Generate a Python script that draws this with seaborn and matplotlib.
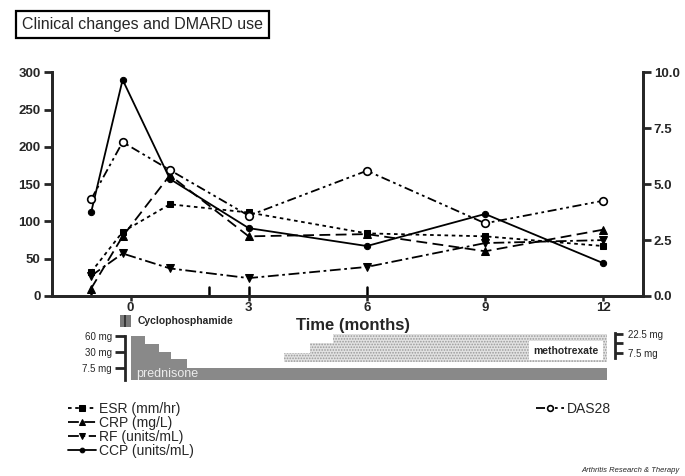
import numpy as np
import pandas as pd
import matplotlib
matplotlib.use("Agg")
import matplotlib.pyplot as plt
import seaborn as sns

# ---------------- data ----------------
months = [-1, -0.2, 1, 3, 6, 9, 12]
esr = [32, 86, 123, 112, 84, 80, 67]
crp = [10, 80, 162, 80, 83, 60, 89]
rf = [27, 57, 37, 24, 39, 71, 75]
ccp = [112, 290, 157, 91, 67, 110, 44]
das28 = [4.32, 6.88, 5.63, 3.59, 5.60, 3.25, 4.26]

series_labels = ["ESR (mm/hr)", "CRP (mg/L)", "RF (units/mL)", "CCP (units/mL)"]
das_label = "DAS28"

x_ticks = [0, 3, 6, 9, 12]
event_months = [-1, 2, 3, 6]
left_ticks = [0, 50, 100, 150, 200, 250, 300]
right_ticks = [0.0, 2.5, 5.0, 7.5, 10.0]

cyclo_start = [-0.27, -0.135]
cyclo_width = [0.135, 0.135]

pred_start = [0, 0.38, 0.72, 1.04, 1.44]
pred_dose = [60, 45, 30, 20, 7.5]
pred_end = 12.1
pred_ticks = [60, 30, 7.5]
pred_ticklabels = ["60 mg", "30 mg", "7.5 mg"]

mtx_start = [3.9, 4.55, 5.15]
mtx_dose = [7.5, 15, 22.5]
mtx_end = 12.1
mtx_ticks = [7.5, 15, 22.5]
mtx_ticklabels = ["7.5 mg", "", "22.5 mg"]

# ---------------- style ----------------
sns.set_style("ticks")
plt.rcParams["font.family"] = ["Liberation Sans", "DejaVu Sans"]
plt.rcParams["hatch.linewidth"] = 0.8

W, H = 685, 476
fig = plt.figure(figsize=(W / 100, H / 100), dpi=100)


def fx(px):
    return px / W


def fy(py):
    return 1 - py / H


# main axes
ax = fig.add_axes([fx(51.7), fy(296), fx(642.7 - 51.7), (296 - 72.3) / H])
ax2 = ax.twinx()

df = pd.DataFrame({"month": months, "ESR": esr, "CRP": crp, "RF": rf,
                   "CCP": ccp, "DAS28": das28})

styles = {
    "ESR": dict(linestyle=(0, (2, 2)), marker="s", markersize=5),
    "CRP": dict(linestyle=(0, (6, 3)), marker="^", markersize=5.5),
    "RF": dict(linestyle=(0, (6, 2, 1.5, 2)), marker="v", markersize=5.5),
    "CCP": dict(linestyle="-", marker="o", markersize=4.5),
}
handles = []
for key, lab in zip(["ESR", "CRP", "RF", "CCP"], series_labels):
    sns.lineplot(data=df, x="month", y=key, ax=ax, color="black", linewidth=1.3,
                 markeredgecolor="black", markerfacecolor="black", legend=False,
                 **styles[key])
    ln = ax.lines[-1]
    ln.set_label(lab)
    handles.append(ln)

sns.lineplot(data=df, x="month", y="DAS28", ax=ax2, color="black", linewidth=1.3,
             linestyle=(0, (5, 2, 1.5, 2, 1.5, 2)), marker="o", markersize=5.5,
             markerfacecolor="white", markeredgecolor="black", markeredgewidth=1.2,
             legend=False)
das_line = ax2.lines[-1]
das_line.set_label(das_label)

ax.set_xlim(-2, 13)
ax.set_ylim(0, 300)
ax2.set_ylim(0, 10)
ax.set_xticks(x_ticks)
ax.set_yticks(left_ticks)
ax2.set_yticks(right_ticks)
ax2.set_yticklabels([f"{v:.1f}" for v in right_ticks])
for a in (ax, ax2):
    a.spines["top"].set_visible(False)
    for s in a.spines.values():
        s.set_linewidth(2)
    a.set_ylabel("")
ax.set_xlabel("Time (months)", fontsize=12, fontweight="bold")
ax.xaxis.set_label_coords(0.51, -0.1)
ax.tick_params(axis="y", direction="out", length=6, width=2, labelsize=9.5, pad=2)
ax.tick_params(axis="x", direction="out", length=3.5, width=1.8, labelsize=9.5, pad=1)
ax2.tick_params(axis="y", direction="out", length=6, width=2, labelsize=9.5, pad=2)
for lab in ax.get_xticklabels() + ax.get_yticklabels() + ax2.get_yticklabels():
    lab.set_fontweight("bold")
for m in event_months:
    ax.axvline(m, ymin=0, ymax=0.042, color="black", linewidth=1.8)

# cyclophosphamide strip
axc = fig.add_axes([fx(51.7), fy(328), fx(642.7 - 51.7), 14 / H])
axc.set_xlim(-2, 13)
axc.set_ylim(0, 1)
axc.axis("off")
axc.bar(cyclo_start, 0.85, width=cyclo_width, bottom=0.08, align="edge",
        color="#7a7a7a", linewidth=0)
axc.vlines(cyclo_start[1], 0.08, 0.93, color="#2a2a2a", linewidth=1.2)
axc.text(cyclo_start[1] + 0.32, 0.5, "Cyclophosphamide", fontsize=7.5,
         fontweight="bold", va="center", ha="left")

# prednisone / methotrexate panel
dose_ref = [0, 7.5, 30, 60, 90]
pos_ref = [0, 12.3, 28.3, 44.3, 60.3]


def fwd(d):
    return np.interp(d, dose_ref, pos_ref)


def inv(p):
    return np.interp(p, pos_ref, dose_ref)


axp = fig.add_axes([fx(51.7), fy(380), fx(642.7 - 51.7), 50 / H])
axp.patch.set_visible(False)
axp.set_xlim(-2, 13)
axp.set_yscale("function", functions=(fwd, inv))
axp.set_ylim(0, float(inv(50)))
pw = np.diff(pred_start + [pred_end])
axp.bar(pred_start, pred_dose, width=pw, align="edge", color="#898989", linewidth=0)
for s in ["top", "bottom", "right"]:
    axp.spines[s].set_visible(False)
axp.spines["left"].set_position(("data", -0.15))
axp.spines["left"].set_bounds(0, 60)
axp.spines["left"].set_linewidth(2)
axp.set_xticks([])
axp.set_yticks(pred_ticks)
axp.set_yticklabels(pred_ticklabels)
axp.yaxis.set_minor_locator(matplotlib.ticker.NullLocator())
axp.tick_params(axis="y", direction="out", length=7, width=2, labelsize=7, pad=2)
axp.text(pred_start[0] + 0.15, 0.115, "prednisone", transform=axp.get_xaxis_transform(),
         color="#ececec", fontsize=9, va="center", ha="left")

axm = axp.twinx()
axm.patch.set_visible(False)
axm.set_ylim(-15.0, 26.0)
mw = np.diff(mtx_start + [mtx_end])
axm.bar(mtx_start, mtx_dose, width=mw, align="edge", color="#e2e2e2",
        edgecolor="#9a9a9a", hatch="......", linewidth=0)
for s in ["top", "bottom", "left"]:
    axm.spines[s].set_visible(False)
axm.spines["right"].set_position(("data", 12.3))
axm.spines["right"].set_bounds(3, 23.2)
axm.spines["right"].set_linewidth(2)
axm.set_yticks(mtx_ticks)
axm.set_yticklabels(mtx_ticklabels)
axm.tick_params(axis="y", direction="out", length=6, width=2, labelsize=7, pad=3)
axm.text(11.05, 9.0, "methotrexate", fontsize=7.5, fontweight="bold",
         ha="center", va="center",
         bbox=dict(boxstyle="square,pad=0.45", fc="white", ec="none"))

# legends
leg1 = fig.legend(handles=handles, loc="upper left", bbox_to_anchor=(fx(68), fy(402)),
                  frameon=False, fontsize=10, handlelength=2.0, handletextpad=0.2,
                  labelspacing=0.0, borderpad=0, borderaxespad=0, markerscale=0.75)
leg2 = fig.legend(handles=[das_line], loc="upper left", bbox_to_anchor=(fx(536), fy(402)),
                  frameon=False, fontsize=10, handlelength=2.0, handletextpad=0.2,
                  borderpad=0, borderaxespad=0, markerscale=0.75)

# title box
fig.text(fx(22), fy(24.5), "Clinical changes and DMARD use", fontsize=11.5, va="center",
         ha="left", bbox=dict(boxstyle="square,pad=0.35", fc="white", ec="black", lw=1.6))

fig.text(fx(680), fy(470), "Arthritis Research & Therapy", fontsize=5.5,
         style="italic", ha="right", va="center")

fig.savefig("out.png", dpi=100)
